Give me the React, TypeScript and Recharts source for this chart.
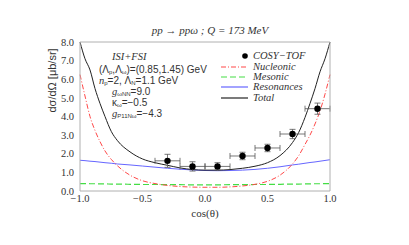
import React from "react";
import {
  ComposedChart,
  Line,
  Scatter,
  ErrorBar,
  XAxis,
  YAxis,
  Legend
} from "recharts";

// model curves, sampled on a common cos(theta) grid
const cosTheta = [
  -1, -0.96, -0.92, -0.88, -0.84, -0.8, -0.75, -0.7, -0.6, -0.5, -0.4, -0.3,
  -0.2, -0.1, 0, 0.1, 0.2, 0.3, 0.4, 0.5, 0.6, 0.7, 0.75, 0.8, 0.84, 0.88,
  0.92, 0.96, 1
];
const total = [
  8.0, 7.1, 6.5, 5.5, 4.7, 4.0, 3.2, 2.7, 2.1, 1.72, 1.52, 1.38, 1.24, 1.15,
  1.12, 1.12, 1.15, 1.22, 1.33, 1.52, 1.9, 2.6, 3.15, 3.95, 4.7, 5.5, 6.4,
  7.1, 8.0
];
const nucleonic = [
  6.25, 5.1, 4.0, 3.25, 2.65, 2.15, 1.7, 1.35, 0.85, 0.55, 0.4, 0.3, 0.24,
  0.21, 0.2, 0.2, 0.22, 0.27, 0.36, 0.52, 0.85, 1.45, 1.9, 2.5, 3.0, 3.6, 4.3,
  5.2, 6.25
];
const mesonic = [
  0.4, 0.4, 0.39, 0.39, 0.38, 0.38, 0.37, 0.37, 0.36, 0.35, 0.35, 0.34, 0.34,
  0.33, 0.33, 0.33, 0.34, 0.34, 0.35, 0.35, 0.36, 0.37, 0.37, 0.38, 0.38,
  0.39, 0.39, 0.4, 0.4
];
const resonances = [
  1.65, 1.63, 1.6, 1.58, 1.55, 1.52, 1.49, 1.45, 1.4, 1.34, 1.28, 1.22, 1.17,
  1.13, 1.1, 1.09, 1.1, 1.12, 1.16, 1.22, 1.3, 1.4, 1.44, 1.49, 1.53, 1.56,
  1.6, 1.64, 1.68
];

// COSY-TOF data
const dataX = [-0.3, -0.1, 0.1, 0.3, 0.5, 0.7, 0.9];
const dataY = [1.62, 1.32, 1.32, 1.88, 2.31, 3.06, 4.42];
const dataErrY = [0.35, 0.25, 0.2, 0.2, 0.2, 0.25, 0.3];
const dataErrX = [0.1, 0.1, 0.1, 0.1, 0.1, 0.1, 0.1];

const xMajor = [-1, -0.5, 0, 0.5, 1];
const xMinor = [
  -1, -0.9, -0.8, -0.7, -0.6, -0.5, -0.4, -0.3, -0.2, -0.1, 0, 0.1, 0.2, 0.3,
  0.4, 0.5, 0.6, 0.7, 0.8, 0.9, 1
];
const yMajor = [0, 1, 2, 3, 4, 5, 6, 7, 8];
const yMinor = [
  0, 0.5, 1, 1.5, 2, 2.5, 3, 3.5, 4, 4.5, 5, 5.5, 6, 6.5, 7, 7.5, 8
];

const curveData = cosTheta.map((x, i) => ({
  x,
  total: total[i],
  nucleonic: nucleonic[i],
  mesonic: mesonic[i],
  resonances: resonances[i]
}));

const pointData = dataX.map((x, i) => ({
  x,
  y: dataY[i],
  ex: dataErrX[i],
  ey: dataErrY[i]
}));

const legendItems = [
  { name: "COSY\u2212TOF", color: "#000", dash: "", dot: true },
  { name: "Nucleonic", color: "#ff4848", dash: "5 2 1 2", dot: false },
  { name: "Mesonic", color: "#44dd44", dash: "6 3", dot: false },
  { name: "Resonances", color: "#6666ff", dash: "", dot: false },
  { name: "Total", color: "#222", dash: "", dot: false }
];

const serif = "'Liberation Serif', 'DejaVu Serif', serif";
const sans = "'Liberation Sans', Arial, sans-serif";
const frame = "#b0b0b0";

const fmt = (v: number) =>
  v < 0 ? "\u2212" + Math.abs(v).toFixed(1) : v.toFixed(1);

const renderLegend = () => (
  <div style={{ fontFamily: serif, fontStyle: "italic", fontSize: 10.5, color: "#333" }}>
    {legendItems.map((it) => (
      <div key={it.name} style={{ display: "flex", alignItems: "center", height: 10.4 }}>
        <svg width={30} height={8}>
          {it.dot ? (
            <circle cx={25} cy={4} r={2.8} fill={it.color} />
          ) : (
            <line x1={1} y1={4} x2={28} y2={4} stroke={it.color} strokeWidth={1.2} strokeDasharray={it.dash} />
          )}
        </svg>
        <span style={{ marginLeft: 3, lineHeight: "10px" }}>{it.name}</span>
      </div>
    ))}
  </div>
);

// annotation block (parameter set)
const sub = { fontSize: 6, position: "relative", top: 1, lineHeight: "6px" } as const;
const gi = { fontFamily: serif, fontStyle: "italic", fontSize: 10.5, lineHeight: "10px" } as const;
const row = (left: number, top: number) =>
  ({ position: "absolute", left, top, height: 10, lineHeight: "10px" } as const);

export default function App() {
  return (
    <div style={{ position: "absolute", left: 0, top: 0, width: 409, height: 245, background: "#fff" }}>
      <style>{`
        .recharts-cartesian-axis-tick-value { font-family: ${serif}; }
        .recharts-xAxis .recharts-label { font-family: ${serif}; }
        .recharts-yAxis .recharts-label { font-family: ${sans}; }
      `}</style>
      <div
        style={{
          position: "absolute",
          left: 0,
          width: 420,
          top: 24,
          textAlign: "center",
          fontFamily: serif,
          fontStyle: "italic",
          fontSize: 11,
          color: "#333"
        }}
      >
        pp &rarr; pp&omega; ; Q = 173 MeV
      </div>
      <ComposedChart
        width={409}
        height={245}
        data={curveData}
        margin={{ top: 42, right: 79, bottom: 24, left: 40 }}
      >
        <XAxis
          xAxisId="x"
          type="number"
          dataKey="x"
          domain={[-1, 1]}
          ticks={xMajor}
          tickFormatter={fmt}
          tickLine={false}
          tickSize={0}
          tickMargin={4}
          height={30}
          axisLine={{ stroke: frame }}
          tick={{ fontFamily: serif, fontSize: 10.5, fill: "#333" }}
          label={{ value: "cos(\u03b8)", position: "insideBottom", offset: 4, fontFamily: serif, fontSize: 11, fill: "#333" }}
        />
        <XAxis xAxisId="xb" type="number" domain={[-1, 1]} ticks={xMinor} mirror tick={false} tickSize={3} axisLine={false} stroke={frame} />
        <XAxis xAxisId="xt" orientation="top" type="number" domain={[-1, 1]} ticks={xMinor} mirror tick={false} tickSize={3} axisLine={{ stroke: frame }} stroke={frame} />
        <YAxis
          yAxisId="y"
          type="number"
          domain={[0, 8]}
          ticks={yMajor}
          tickFormatter={(v: number) => v.toFixed(1)}
          tickLine={false}
          tickSize={0}
          tickMargin={6}
          width={40}
          axisLine={{ stroke: frame }}
          tick={{ fontFamily: serif, fontSize: 10.5, fill: "#333" }}
          label={{ value: "d\u03c3/d\u03a9  [\u03bcb/sr]", angle: -90, position: "insideLeft", offset: 12, fontFamily: sans, fontSize: 11, fill: "#333", dy: -4 }}
        />
        <YAxis yAxisId="yl" type="number" domain={[0, 8]} ticks={yMinor} mirror tick={false} tickSize={3} axisLine={false} stroke={frame} />
        <YAxis yAxisId="yr" orientation="right" type="number" domain={[0, 8]} ticks={yMinor} mirror tick={false} tickSize={3} axisLine={{ stroke: frame }} stroke={frame} />
        <Line xAxisId="x" yAxisId="y" dataKey="mesonic" type="monotone" stroke="#44dd44" strokeWidth={1.2} strokeDasharray="6 3" dot={false} isAnimationActive={false} />
        <Line xAxisId="x" yAxisId="y" dataKey="resonances" type="monotone" stroke="#6666ff" strokeWidth={1} dot={false} isAnimationActive={false} />
        <Line xAxisId="x" yAxisId="y" dataKey="nucleonic" type="monotone" stroke="#ff4848" strokeWidth={1} strokeDasharray="5 2 1 2" dot={false} isAnimationActive={false} />
        <Line xAxisId="x" yAxisId="y" dataKey="total" type="monotone" stroke="#222" strokeWidth={1} dot={false} isAnimationActive={false} />
        <Scatter
          xAxisId="x"
          yAxisId="y"
          data={pointData}
          dataKey="y"
          isAnimationActive={false}
          shape={(p: any) => <circle cx={p.cx} cy={p.cy} r={3.2} fill="#000" />}
        >
          <ErrorBar dataKey="ey" direction="y" width={3} stroke="#555" strokeWidth={0.8} />
          <ErrorBar dataKey="ex" direction="x" width={3} stroke="#555" strokeWidth={0.8} />
        </Scatter>
        <Legend
          layout="vertical"
          align="center"
          verticalAlign="middle"
          content={renderLegend}
          wrapperStyle={{ left: 220, top: 51, width: 110 }}
        />
      </ComposedChart>
      <div style={{ position: "absolute", left: 0, top: 0, fontFamily: sans, fontSize: 10, color: "#333", whiteSpace: "nowrap" }}>
        <div style={{ ...row(112, 52), ...gi }}>ISI+FSI</div>
        <div style={row(99, 65)}>
          (&Lambda;<span style={sub}>p</span>,&Lambda;<span style={sub}>&omega;</span>)=(0.85,1.45) GeV
        </div>
        <div style={row(99, 76)}>
          <span style={gi}>n</span><span style={sub}>p</span>=2, &Lambda;<span style={sub}>N</span>=1.1 GeV
        </div>
        <div style={row(112, 87)}>
          <span style={gi}>g</span><span style={sub}>&omega;NN</span>=9.0
        </div>
        <div style={row(112, 98)}>
          &kappa;<span style={sub}>&omega;</span>=&minus;0.5
        </div>
        <div style={row(112, 109)}>
          <span style={gi}>g</span><span style={sub}>P11N&omega;</span>=&minus;4.3
        </div>
      </div>
    </div>
  );
}
